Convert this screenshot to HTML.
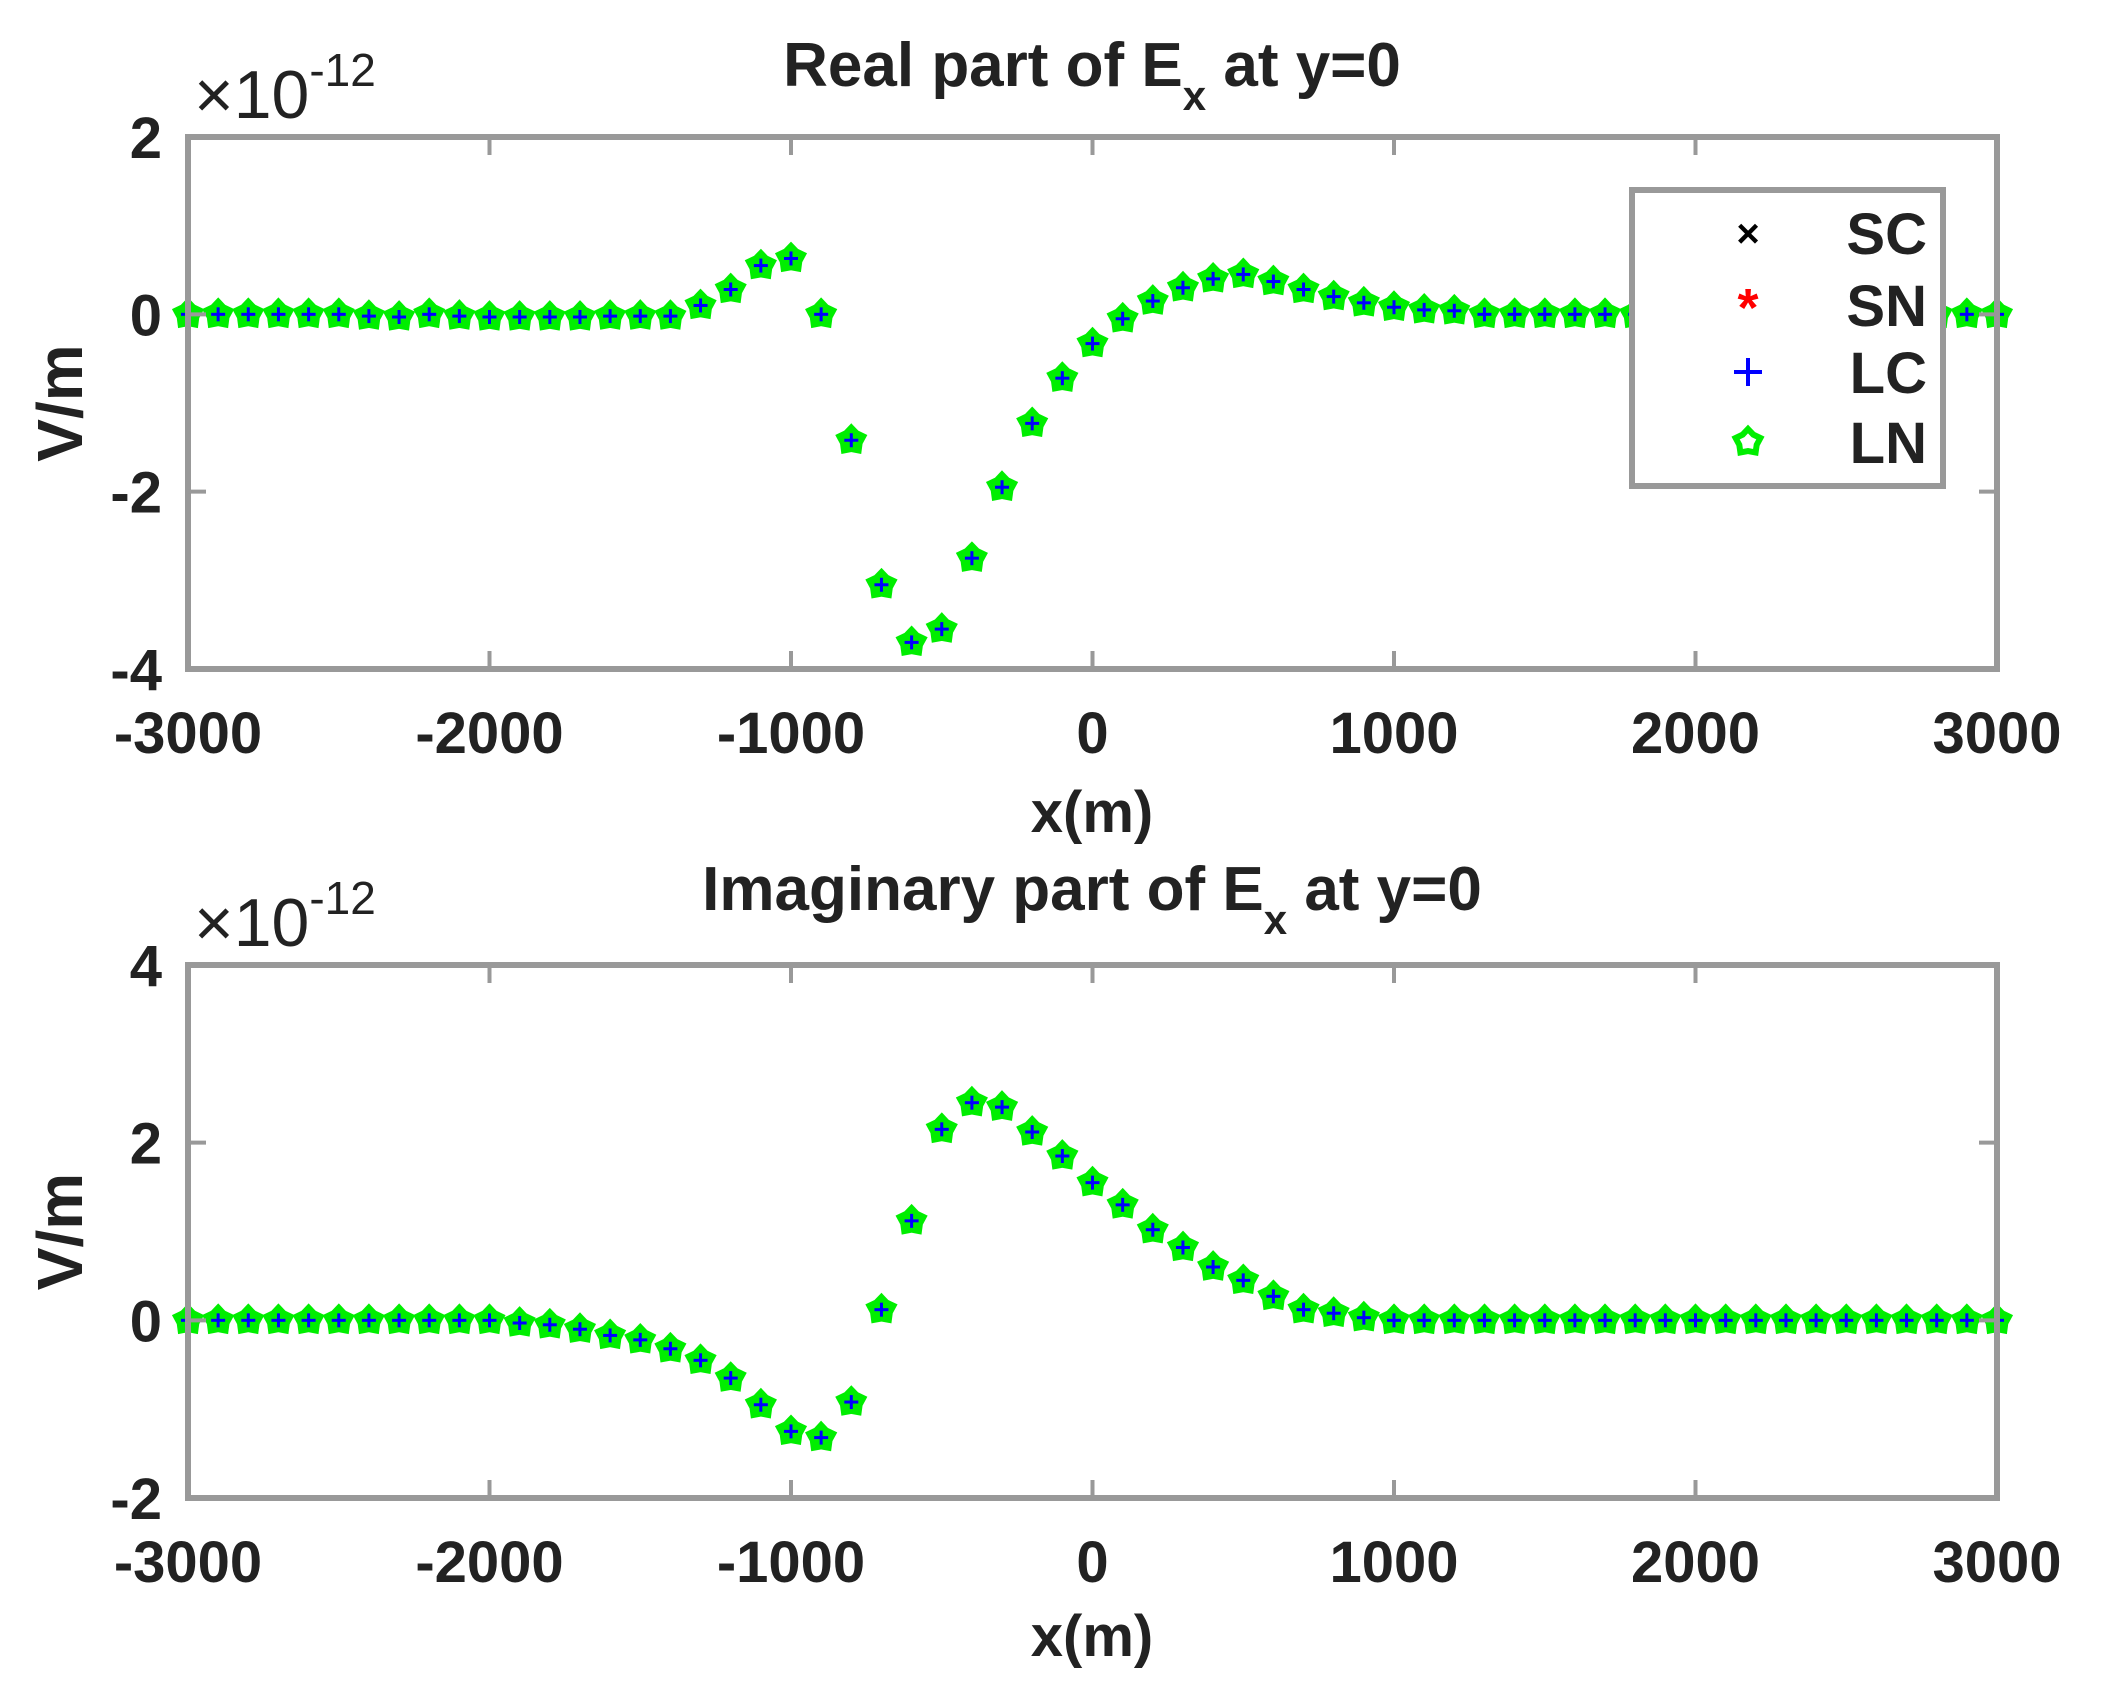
<!DOCTYPE html>
<html><head><meta charset="utf-8"><style>
html,body{margin:0;padding:0;background:#fff;}
svg{display:block;}
text{font-family:"Liberation Sans",Arial,sans-serif;fill:#222;}
</style></head><body>
<svg id="s" width="2101" height="1695" viewBox="0 0 2101 1695" xmlns="http://www.w3.org/2000/svg">
<g id="g"></g>
</svg>
<script>
var NS="http://www.w3.org/2000/svg",g=document.getElementById('g');
function el(t,a,txt){var e=document.createElementNS(NS,t);for(var k in a)e.setAttribute(k,a[k]);if(txt!==undefined)e.textContent=txt;g.appendChild(e);return e;}
var X0=188,X1=1997;
function px(x){return X0+(x+3000)*(X1-X0)/6000;}
var top1=[0,0,0,0,0,0,-0.02,-0.03,0,-0.02,-0.03,-0.03,-0.03,-0.03,-0.02,-0.02,-0.02,0.1,0.28,0.55,0.63,0,-1.42,-3.05,-3.7,-3.55,-2.75,-1.95,-1.23,-0.72,-0.33,-0.05,0.15,0.3,0.4,0.45,0.37,0.28,0.2,0.13,0.08,0.05,0.04,0,0,0,0,0,0,0,0,0,0,0,0,0,0,0,0,0,0];
var bot=[0,0,0,0,0,0,0,0,0,0,0,-0.03,-0.05,-0.1,-0.17,-0.22,-0.32,-0.45,-0.65,-0.95,-1.25,-1.32,-0.92,0.12,1.12,2.15,2.45,2.4,2.12,1.85,1.55,1.3,1.02,0.82,0.6,0.45,0.27,0.12,0.08,0.03,0,0,0,0,0,0,0,0,0,0,0,0,0,0,0,0,0,0,0,0,0];
function star(cx,cy,r){var p=[];for(var i=0;i<10;i++){var a=-Math.PI/2+i*Math.PI/5,rr=i%2?r*0.7:r;p.push((cx+rr*Math.cos(a)).toFixed(1)+','+(cy+rr*Math.sin(a)).toFixed(1));}return p.join(' ');}
function marker(cx,cy){
 el('text',{x:cx,y:cy+14,'text-anchor':'middle','font-size':36,style:'fill:#f00;font-weight:bold'},'*');
 el('polygon',{points:star(cx,cy,14),fill:'#00ee00',stroke:'#00ee00','stroke-width':4});
 el('line',{x1:cx-7,y1:cy,x2:cx+7,y2:cy,stroke:'#0000ff','stroke-width':3});
 el('line',{x1:cx,y1:cy-7,x2:cx,y2:cy+7,stroke:'#0000ff','stroke-width':3});
}
function axes(T,B,ymin,ymax,data,title,titleY,xlabY,tickBase){
 var py=function(v){return B-(v-ymin)*(B-T)/(ymax-ymin);};
 for(var i=0;i<data.length;i++)marker(px(-3000+100*i),py(data[i]));
 el('rect',{x:X0,y:T,width:X1-X0,height:B-T,fill:'none',stroke:'#999','stroke-width':6});
 for(var x=-3000;x<=3000;x+=1000){var xx=px(x);
  el('line',{x1:xx,y1:B,x2:xx,y2:B-18,stroke:'#999','stroke-width':4});
  el('line',{x1:xx,y1:T,x2:xx,y2:T+18,stroke:'#999','stroke-width':4});
  el('text',{x:xx,y:tickBase,'text-anchor':'middle','font-size':58,'font-weight':'bold'},String(x));}
 for(var v=ymin;v<=ymax;v+=2){var yy=py(v);
  el('line',{x1:X0,y1:yy,x2:X0+18,y2:yy,stroke:'#999','stroke-width':4});
  el('line',{x1:X1,y1:yy,x2:X1-18,y2:yy,stroke:'#999','stroke-width':4});
  el('text',{x:162,y:yy+21,'text-anchor':'end','font-size':58,'font-weight':'bold'},String(v));}
 var t=el('text',{x:1092,y:titleY,'text-anchor':'middle','font-size':62,'font-weight':'bold'});
 t.innerHTML=title+'E<tspan font-size="42" dy="24">x</tspan><tspan dy="-24"> at y=0</tspan>';
 el('text',{x:1092,y:xlabY,'text-anchor':'middle','font-size':58,'font-weight':'bold'},'x(m)');
 var cy=(T+B)/2;
 el('text',{x:0,y:0,'text-anchor':'middle','font-size':64,'font-weight':'bold',transform:'translate(82,'+cy+') rotate(-90)'},'V/m');
 var e=el('text',{x:194,y:T-19,'font-size':68});
 e.innerHTML='\u00d710<tspan font-size="46" dy="-32">-12</tspan>';
}
axes(137,669,-4,2,top1,'Real part of ',86,832,753);
axes(965,1498,-2,4,bot,'Imaginary part of ',910,1656,1582);
// legend
el('rect',{x:1632,y:190,width:311,height:296,fill:'#fff',stroke:'#999','stroke-width':6});
var ly=[233,305,372,442],lab=['SC','SN','LC','LN'];
el('text',{x:1748,y:247,'text-anchor':'middle','font-size':40,style:'fill:#000;font-weight:bold'},'\u00d7');
el('text',{x:1748,y:326,'text-anchor':'middle','font-size':54,style:'fill:#f00;font-weight:bold'},'*');
el('line',{x1:1734,y1:372,x2:1762,y2:372,stroke:'#0000ff','stroke-width':4});
el('line',{x1:1748,y1:358,x2:1748,y2:386,stroke:'#0000ff','stroke-width':4});
el('polygon',{points:star(1748,442,13),fill:'#fff',stroke:'#00ee00','stroke-width':6});
for(var i=0;i<4;i++)el('text',{x:1927,y:ly[i]+21,'text-anchor':'end','font-size':58,'font-weight':'bold'},lab[i]);
</script>
</body></html>
